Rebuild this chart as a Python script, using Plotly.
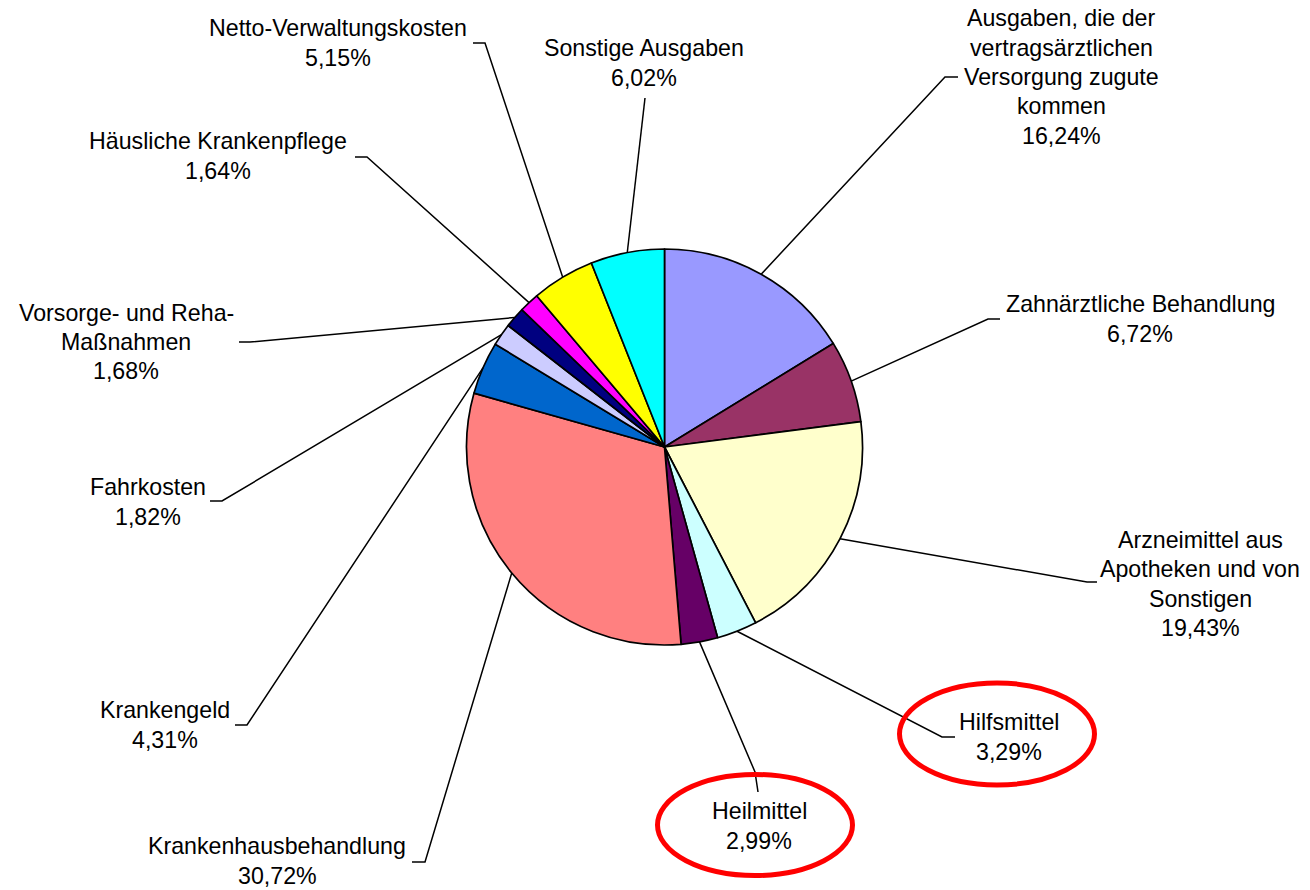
import math
import plotly.graph_objects as go

# ---- data ----
categories = [
    "Ausgaben, die der<br>vertragsärztlichen<br>Versorgung zugute<br>kommen",
    "Zahnärztliche Behandlung",
    "Arzneimittel aus<br>Apotheken und von<br>Sonstigen",
    "Hilfsmittel",
    "Heilmittel",
    "Krankenhausbehandlung",
    "Krankengeld",
    "Fahrkosten",
    "Vorsorge- und Reha-<br>Maßnahmen",
    "Häusliche Krankenpflege",
    "Netto-Verwaltungskosten",
    "Sonstige Ausgaben",
]
values = [16.24, 6.72, 19.43, 3.29, 2.99, 30.72, 4.31, 1.82, 1.68, 1.64, 5.15, 6.02]
colors = ["#9999FF", "#993366", "#FFFFCC", "#CCFFFF", "#660066", "#FF8080",
          "#0066CC", "#CCCCFF", "#000080", "#FF00FF", "#FFFF00", "#00FFFF"]
highlighted = ["Hilfsmittel", "Heilmittel"]

# ---- layout (pixel positions in the window of labels, elbow & end of leader lines) ----
W, H = 1310, 890
CX, CY, R = 664.5, 447.0, 198.0
label_center = [(1061, 77), (1140, 319), (1200, 584), (1009, 737), (759, 826),
                (277, 861), (165, 725), (148, 502), (126, 342), (218, 156),
                (338, 43), (644, 63)]
leader_elbow = [(945, 77), (988, 319), (1087, 582), (942, 737), (755, 772),
                (425, 862), (247, 725), (222, 501), (250, 342), (367, 157),
                (485, 43), (645, 98)]
leader_end = [(958, 77), (1000, 319), (1097, 582), (955, 737), (758, 792),
              (412, 862), (235, 725), (210, 501), (239, 342), (355, 157),
              (473, 43), (645, 98)]
ellipses = {"Hilfsmittel": (997, 734, 97.5, 51), "Heilmittel": (755, 825, 97.5, 50.5)}
LINE_H = 29.3

FONT = "Liberation Sans, Arial, sans-serif"
FS = 23.2


def px(x, y):
    return x / W, 1 - y / H


fig = go.Figure()
fig.add_trace(go.Pie(
    labels=[c.replace("<br>", " ") for c in categories],
    values=values,
    sort=False,
    direction="clockwise",
    rotation=0,
    textinfo="none",
    hoverinfo="label+percent",
    marker=dict(colors=colors, line=dict(color="black", width=1.7)),
    domain=dict(x=[(CX - R) / W, (CX + R) / W],
                y=[1 - (CY + R) / H, 1 - (CY - R) / H]),
    showlegend=False,
))

total = sum(values)
shapes = []
annotations = []
cum = 0.0
for i, (cat, v) in enumerate(zip(categories, values)):
    mid = (cum + v / 2) / total * 2 * math.pi
    cum += v
    sx = CX + R * math.sin(mid)
    sy = CY - R * math.cos(mid)
    pts = [(sx, sy), leader_elbow[i], leader_end[i]]
    path = "M " + " L ".join("%.5f,%.5f" % px(*p) for p in pts)
    shapes.append(dict(type="path", path=path, xref="paper", yref="paper",
                       line=dict(color="black", width=1.5), layer="above"))
    pct = ("%.2f" % v).replace(".", ",") + "%"
    lines = cat.split("<br>") + [pct]
    n = len(lines)
    cx, cy = label_center[i]
    for k, t in enumerate(lines):
        ly_px = cy + (k - (n - 1) / 2) * LINE_H
        lx, ly = px(cx, ly_px)
        annotations.append(dict(text=t, x=lx, y=ly, xref="paper", yref="paper",
                                xanchor="center", yanchor="middle", showarrow=False,
                                font=dict(family=FONT, size=FS, color="black")))

for name in highlighted:
    ex, ey, rx, ry = ellipses[name]
    x0, y0 = px(ex - rx, ey + ry)
    x1, y1 = px(ex + rx, ey - ry)
    shapes.append(dict(type="circle", xref="paper", yref="paper", x0=x0, y0=y0, x1=x1, y1=y1,
                       line=dict(color="#FF0000", width=5), layer="above"))

fig.update_layout(
    width=W, height=H,
    margin=dict(l=0, r=0, t=0, b=0),
    paper_bgcolor="white", plot_bgcolor="white",
    shapes=shapes, annotations=annotations,
    font=dict(family=FONT, size=FS, color="black"),
)

fig.write_html("out.html",
               config={"displayModeBar": False},
               post_script="document.body.style.margin='0';document.body.style.overflow='hidden';")
